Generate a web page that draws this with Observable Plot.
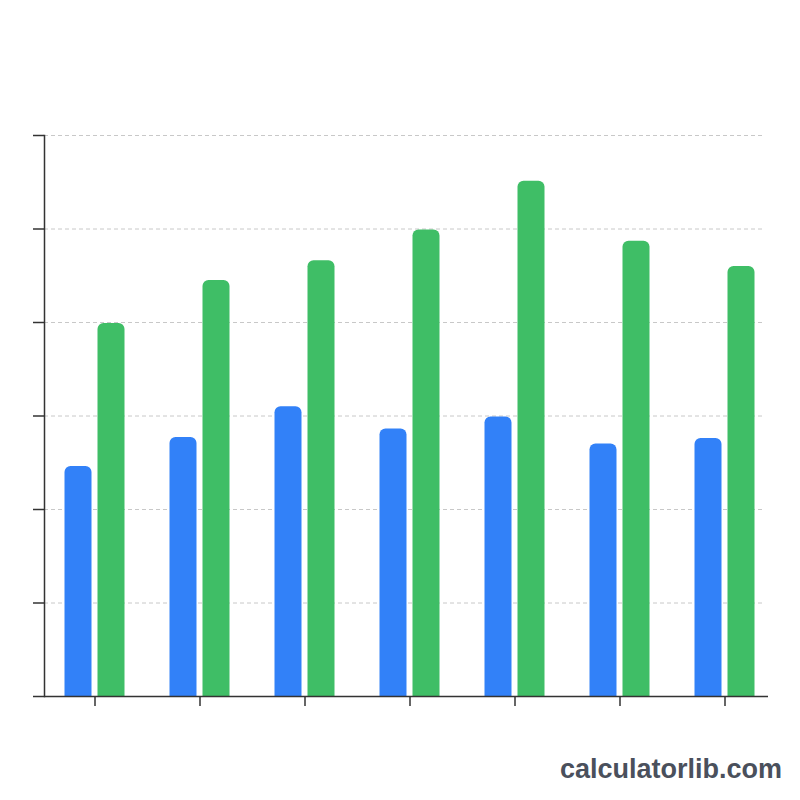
<!DOCTYPE html>
<html>
<head>
<meta charset="utf-8">
<script src="https://cdn.jsdelivr.net/npm/d3@7"></script>
<script src="https://cdn.jsdelivr.net/npm/@observablehq/plot@0.6"></script>
<style>
  html, body { margin: 0; padding: 0; background: #fff; }
  #wrap { position: relative; width: 800px; height: 800px; }
  #brand { position: absolute; right: 18px; top: 754px; font-family: "Liberation Sans", Arial, sans-serif; font-weight: bold; font-size: 27px; color: #4a505c; }
</style>
</head>
<body>
<div id="wrap"><div id="brand">calculatorlib.com</div></div>
<script>
const categories = ["1", "2", "3", "4", "5", "6", "7"];
const seriesA = [24.6, 27.7, 31.0, 28.6, 29.9, 27.0, 27.6];
const seriesB = [39.9, 44.5, 46.6, 49.9, 55.1, 48.7, 46.0];
const yTicks = [0, 10, 20, 30, 40, 50, 60];

const dataA = categories.map((c, i) => ({cat: c, value: seriesA[i]}));
const dataB = categories.map((c, i) => ({cat: c, value: seriesB[i]}));

const chart = Plot.plot({
  width: 800,
  height: 800,
  marginTop: 135,
  marginBottom: 104,
  marginLeft: 44,
  marginRight: 32,
  style: {background: "transparent"},
  x: {domain: categories, range: [40.5, 778.5], padding: 0, label: null},
  y: {domain: [0, 60], label: null},
  marks: [
    Plot.gridY(yTicks.slice(1), {stroke: "#c8c8c8", strokeOpacity: 1, strokeDasharray: "4,3", insetRight: 6}),
    Plot.barY(dataA, {x: "cat", y: "value", fill: "#3281f8", insetLeft: 22.5, insetRight: 55.5, rx: 6, insetBottom: -10, clip: true}),
    Plot.barY(dataB, {x: "cat", y: "value", fill: "#3fbe66", insetLeft: 55.5, insetRight: 22.5, rx: 6, insetBottom: -10, clip: true}),
    Plot.axisY(yTicks, {tickSize: 11, tickFormat: () => "", stroke: "#333", strokeWidth: 1.5, label: null}),
    Plot.axisX({tickSize: 10, tickFormat: () => "", stroke: "#333", strokeWidth: 1.5, label: null}),
    Plot.ruleY([0], {stroke: "#333", strokeWidth: 1.5}),
    Plot.frame({anchor: "left", stroke: "#333", strokeWidth: 1.5})
  ]
});
document.getElementById("wrap").prepend(chart);
chart.style.position = "absolute";
chart.style.left = "0";
chart.style.top = "0";
</script>
</body>
</html>
